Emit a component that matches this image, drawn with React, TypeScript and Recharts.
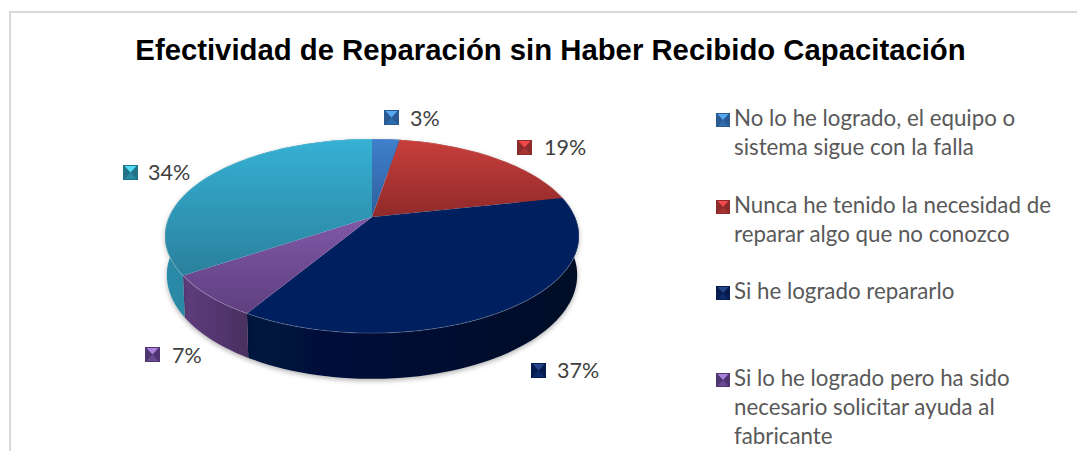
import { PieChart, Pie, Legend } from "recharts"

const chartTitle = "Efectividad de Reparación sin Haber Recibido Capacitación"

const categories = [
  "No lo he logrado, el equipo o sistema sigue con la falla",
  "Nunca he tenido la necesidad de reparar algo que no conozco",
  "Si he logrado repararlo",
  "Si lo he logrado pero ha sido necesario solicitar ayuda al fabricante",
  "Otro",
]
// estimated from the slice edges, the labels show them rounded
const percentages = [2.6, 19, 36.9, 7, 34.4]

// the fifth legend entry falls outside the cropped picture
const legendLines = [
  ["No lo he logrado, el equipo o", "sistema sigue con la falla"],
  ["Nunca he tenido la necesidad de", "reparar algo que no conozco"],
  ["Si he logrado repararlo"],
  ["Si lo he logrado pero ha sido", "necesario solicitar ayuda al", "fabricante"],
]
const legendBaselines = [126, 213, 299, 386]

const topColors = [
  ["#3f80cc", "#2f5f9c"],
  ["#c83e3b", "#8f2a2a"],
  ["#001f5f", "#001f5f"],
  ["#8058a6", "#5f3f80"],
  ["#36b1d4", "#2a809c"],
]
const wallColors = [
  ["#2f5f9c", "#24497a"],
  ["#8f2a2a", "#6e2020"],
  ["#00133f", "#000a26"],
  ["#5e3d7e", "#493060"],
  ["#2a8ba8", "#22748c"],
]
const markerColors = [
  ["#56a8f0", "#2f6cae", "#2a5a92"],
  ["#f24a4a", "#a83432", "#8c2b2b"],
  ["#26468c", "#0a2a6a", "#071c4e"],
  ["#a880da", "#6a4a90", "#4f3570"],
  ["#52ddf5", "#2a8aa4", "#237388"],
]
const labelAnchors = [
  { x: 384, y: 110, tx: 410, ty: 126 },
  { x: 517, y: 140, tx: 544, ty: 155 },
  { x: 531, y: 363, tx: 557, ty: 378 },
  { x: 145, y: 347, tx: 172, ty: 363 },
  { x: 123, y: 165, tx: 148, ty: 180 },
]

const data = categories.map((name, i) => ({ name, value: percentages[i], idx: i }))

// camera used to project the flat pie sectors into the tilted disc
const TILT_COS = 0.46
const TILT_SIN = 0.888
const CAMERA = 920
const DEPTH = 43
const TAPER = 0.4

function project(cx: number, cy: number, r: number, deg: number, drop: number) {
  const rad = (deg * Math.PI) / 180
  const x = r * Math.cos(rad)
  const y = r * Math.sin(rad)
  const up = y * TILT_COS - drop * TILT_SIN
  const away = y * TILT_SIN + drop * TILT_COS * TAPER
  const k = CAMERA / (CAMERA + away)
  return [cx + x * k, cy - up * k]
}

function arcPoints(p: any, drop: number) {
  const pts: number[][] = []
  const steps = Math.max(2, Math.ceil(Math.abs(p.endAngle - p.startAngle) / 2))
  for (let s = 0; s <= steps; s++) {
    const deg = p.startAngle + ((p.endAngle - p.startAngle) * s) / steps
    pts.push(project(p.cx, p.cy, p.outerRadius, deg, drop))
  }
  return pts
}

const toPath = (pts: number[][]) => pts.map((q, i) => `${i ? "L" : "M"}${q[0].toFixed(2)},${q[1].toFixed(2)}`).join(" ")

function TopFace(props: any) {
  const rim = arcPoints(props, 0)
  const d = `M${props.cx},${props.cy} ${toPath(rim).replace("M", "L")} Z`
  return (
    <g>
      <path d={d} fill={`url(#top-${props.idx})`} stroke="none" />
      <path d={toPath(rim)} fill="none" stroke="#ffffff" strokeOpacity={0.16} strokeWidth={1.2} />
    </g>
  )
}

function WallFace(props: any) {
  const upper = arcPoints(props, 0)
  const lower = arcPoints(props, DEPTH).reverse()
  return <path d={`${toPath(upper)} ${toPath(lower).replace("M", "L")} Z`} fill={`url(#wall-${props.idx})`} filter="url(#wallShadow)" />
}

function BevelSquare({ x, y, size, colors }: { x: number; y: number; size: number; colors: string[] }) {
  const mx = x + size / 2
  const my = y + size / 2
  const r = x + size
  const b = y + size
  return (
    <g>
      <polygon points={`${x},${y} ${r},${y} ${r},${b} ${x},${b}`} fill={colors[2]} />
      <polygon points={`${x + 1.5},${y + 1} ${r - 1.5},${y + 1} ${mx},${my}`} fill={colors[0]} />
      <polygon points={`${x + 1.5},${b - 1} ${r - 1.5},${b - 1} ${mx},${my}`} fill={colors[1]} />
    </g>
  )
}

function renderPercentLabel(props: any) {
  const a = labelAnchors[props.index]
  return (
    <g key={props.index}>
      <BevelSquare x={a.x} y={a.y} size={15} colors={markerColors[props.index]} />
      <text x={a.tx} y={a.ty} fontFamily="Lato" fontSize={21.5} fill="#404040">
        {Math.round(percentages[props.index])}%
      </text>
    </g>
  )
}

function renderLegend() {
  return (
    <svg width={1077} height={451} style={{ display: "block" }}>
      {legendLines.map((lines, i) => (
        <g key={categories[i]}>
          <BevelSquare x={716} y={legendBaselines[i] - 13} size={14} colors={markerColors[i]} />
          {lines.map((line, j) => (
            <text key={line} x={734} y={legendBaselines[i] + j * 29} fontFamily="Lato" fontSize={22.3} fill="#595959">
              {line}
            </text>
          ))}
        </g>
      ))}
    </svg>
  )
}

export default function App() {
  return (
    <div style={{ position: "absolute", left: 0, top: 0, width: 1077, height: 451, overflow: "hidden", background: "#fff" }}>
      <div style={{ position: "absolute", left: 9, top: 11, width: 1068, height: 440, borderTop: "2px solid #d9d9d9", borderLeft: "2px solid #d9d9d9", boxSizing: "border-box" }} />
      <div style={{ position: "absolute", left: 0, top: 30, width: 1101, textAlign: "center", fontFamily: "Liberation Sans", fontWeight: 700, fontSize: 29.3, color: "#000", lineHeight: "40px" }}>
        {chartTitle}
      </div>
      <div style={{ position: "absolute", left: 0, top: 0 }}>
        <PieChart width={1077} height={451} margin={{ top: 0, right: 0, bottom: 0, left: 0 }}>
          <defs>
            {topColors.map((c, i) => (
              <linearGradient key={i} id={`top-${i}`} x1="0" y1="0" x2="0" y2="1">
                <stop offset="0%" stopColor={c[0]} />
                <stop offset="100%" stopColor={c[1]} />
              </linearGradient>
            ))}
            {wallColors.map((c, i) => (
              <linearGradient key={i} id={`wall-${i}`} x1="0" y1="0" x2="1" y2="0">
                <stop offset="0%" stopColor={c[0]} />
                <stop offset="100%" stopColor={c[1]} />
              </linearGradient>
            ))}
            <filter id="wallShadow" x="-20%" y="-20%" width="140%" height="140%">
              <feDropShadow dx={0} dy={2} stdDeviation={2.5} floodColor="#000" floodOpacity={0.3} />
            </filter>
          </defs>
          <Legend content={renderLegend} wrapperStyle={{ position: "absolute", left: 0, top: 0, width: 1077, height: 451, pointerEvents: "none" }} />
          <Pie
            data={data}
            dataKey="value"
            nameKey="name"
            cx={372}
            cy={217}
            outerRadius={203}
            startAngle={90}
            endAngle={-270}
            stroke="none"
            legendType="none"
            isAnimationActive={false}
            shape={WallFace}
          />
          <Pie
            data={data}
            dataKey="value"
            nameKey="name"
            cx={372}
            cy={217}
            outerRadius={203}
            startAngle={90}
            endAngle={-270}
            stroke="none"
            isAnimationActive={false}
            shape={TopFace}
            label={renderPercentLabel}
            labelLine={false}
          />
        </PieChart>
      </div>
    </div>
  )
}
